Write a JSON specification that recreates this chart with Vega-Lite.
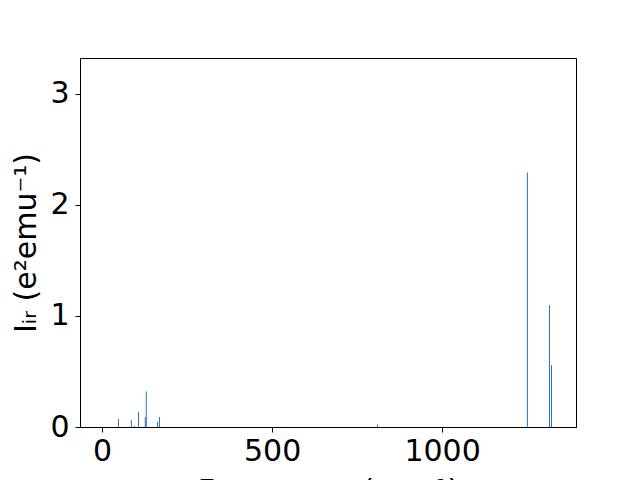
{
  "$schema": "https://vega.github.io/schema/vega-lite/v6.json",
  "width": 496,
  "height": 369,
  "autosize": {"type": "none"},
  "padding": {"left": 80, "top": 58, "right": 64, "bottom": 53},
  "background": "white",
  "config": {
    "view": {"stroke": "black", "strokeWidth": 1},
    "font": "DejaVu Sans",
    "axis": {
      "labelFont": "DejaVu Sans",
      "titleFont": "DejaVu Sans",
      "labelFontSize": 30,
      "titleFontSize": 30,
      "labelColor": "black",
      "titleColor": "black",
      "titleFontWeight": "normal",
      "tickColor": "black",
      "domainColor": "black",
      "tickSize": 5,
      "grid": false
    }
  },
  "data": {
    "values": [
      {"freq": 48, "intensity": 0.072},
      {"freq": 86, "intensity": 0.063},
      {"freq": 95, "intensity": 0.01},
      {"freq": 107, "intensity": 0.135},
      {"freq": 127, "intensity": 0.09},
      {"freq": 130, "intensity": 0.32},
      {"freq": 163, "intensity": 0.045},
      {"freq": 169, "intensity": 0.09},
      {"freq": 810, "intensity": 0.024},
      {"freq": 1251, "intensity": 2.29},
      {"freq": 1316, "intensity": 1.096},
      {"freq": 1322, "intensity": 0.556}
    ]
  },
  "mark": {"type": "rule", "color": "#1f77b4", "strokeWidth": 1},
  "encoding": {
    "x": {
      "field": "freq",
      "type": "quantitative",
      "scale": {"domain": [-65, 1394], "nice": false, "zero": false},
      "axis": {"values": [0, 500, 1000], "format": "d", "title": "Frequency (cm⁻¹)", "titlePadding": 10, "labelPadding": 4}
    },
    "y": {
      "field": "intensity",
      "type": "quantitative",
      "scale": {"domain": [0, 3.32], "nice": false},
      "axis": {"values": [0, 1, 2, 3], "format": "d", "title": "Iᵢᵣ (e²emu⁻¹)", "titlePadding": 8, "labelPadding": 6}
    },
    "y2": {"datum": 0}
  }
}
